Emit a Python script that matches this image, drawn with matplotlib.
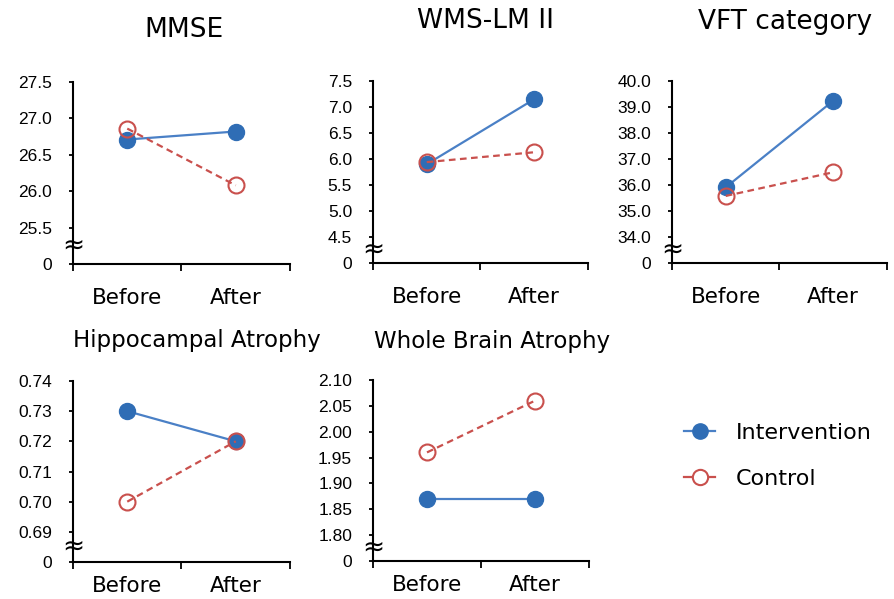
# coding:utf-8
import matplotlib
matplotlib.use("Agg")
import matplotlib.pyplot as plt
from matplotlib.lines import Line2D

# 字体设置
plt.rcParams["font.family"] = ["DejaVu Sans"]

# 数据准备
categories = ["Before", "After"]
titles = ["MMSE", "WMS-LM II", "VFT category", "Hippocampal Atrophy", "Whole Brain Atrophy"]

mmse_intervention = [26.71, 26.82]
mmse_control = [26.86, 26.08]
wms_intervention = [5.90, 7.15]
wms_control = [5.94, 6.13]
vft_intervention = [35.91, 39.24]
vft_control = [35.58, 36.49]
hippo_intervention = [0.730, 0.720]
hippo_control = [0.700, 0.720]
brain_intervention = [1.87, 1.87]
brain_control = [1.96, 2.06]

mmse_ticks = [25.5, 26.0, 26.5, 27.0, 27.5]
wms_ticks = [4.5, 5.0, 5.5, 6.0, 6.5, 7.0, 7.5]
vft_ticks = [34.0, 35.0, 36.0, 37.0, 38.0, 39.0, 40.0]
hippo_ticks = [0.69, 0.70, 0.71, 0.72, 0.73, 0.74]
brain_ticks = [1.80, 1.85, 1.90, 1.95, 2.00, 2.05, 2.10]

intervention_data = [mmse_intervention, wms_intervention, vft_intervention,
                     hippo_intervention, brain_intervention]
control_data = [mmse_control, wms_control, vft_control, hippo_control, brain_control]
tick_data = [mmse_ticks, wms_ticks, vft_ticks, hippo_ticks, brain_ticks]
tick_fmt = ["{:.1f}", "{:.1f}", "{:.1f}", "{:.2f}", "{:.2f}"]

# 坐标轴位置 (像素: 左, 上, 右, 下)
W, H = 895, 599
boxes = [(73, 82, 290, 264), (373, 81, 588, 263), (672, 81, 887, 263),
         (73, 381, 290, 562), (373, 380, 589, 561)]
# 标题位置 (中心x, 基线y)
title_pos = [(184, 37), (486, 28), (785, 29), (197, 347), (492, 348)]

blue = "#2F6DB5"
blue_line = "#4A80C6"
red = "#C9504D"

fig = plt.figure(figsize=(W / 100, H / 100), dpi=100)

for i in range(5):
    l, t, r, b = boxes[i]
    ax = fig.add_axes([l / W, 1 - b / H, (r - l) / W, (b - t) / H])
    ticks = tick_data[i]
    step = ticks[1] - ticks[0]
    base = ticks[0] - step
    xs = [0.5, 1.5]

    ax.plot(xs, intervention_data[i], color=blue_line, lw=1.6, marker="o",
            ms=11.5, mfc=blue, mec=blue, zorder=3)
    ax.plot(xs, control_data[i], color=red, lw=1.6, ls=(0, (3, 2)), marker="o",
            ms=11.5, mfc="none", mec=red, mew=1.5, zorder=4)

    ax.set_xlim(0, 2)
    ax.set_ylim(base, ticks[-1])
    ax.set_yticks([base] + ticks)
    ax.set_yticklabels(["0"] + [tick_fmt[i].format(v) for v in ticks],
                       family=["Liberation Sans", "DejaVu Sans"], fontsize=12.5)
    ax.set_xticks([0, 1, 2])
    ax.set_xticklabels([])
    ax.set_xticks(xs, minor=True)
    ax.set_xticklabels(categories, minor=True, fontsize=15.5)
    ax.tick_params(axis="x", which="minor", length=0, pad=17 if i < 3 else 10)
    ax.tick_params(axis="x", which="major", length=5, width=1.3, direction="out")
    ax.tick_params(axis="y", length=3, width=1.3, direction="out", pad=12)

    for s in ["top", "right"]:
        ax.spines[s].set_visible(False)
    for s in ["left", "bottom"]:
        ax.spines[s].set_linewidth(1.5)

    # 断轴标记
    ax.text(0, base + 0.5 * step, "≈", transform=ax.get_yaxis_transform(),
            ha="center", va="center", fontsize=19, family="DejaVu Sans",
            clip_on=False, zorder=5)

    tx, ty = title_pos[i]
    fig.text(tx / W, 1 - ty / H, titles[i], ha="center", va="baseline",
             fontsize=19 if i < 3 else 16.5)

# 图例
handles = [
    Line2D([], [], color=blue_line, lw=1.6, marker="o", ms=11, mfc=blue, mec=blue),
    Line2D([], [], color=red, lw=1.6, marker="o", ms=11, mfc="white", mec=red, mew=1.5),
]
fig.legend(handles, ["Intervention", "Control"], loc="center left",
           bbox_to_anchor=(664 / W, 1 - 456 / H), frameon=False, fontsize=16,
           handlelength=1.4, handletextpad=0.95, labelspacing=1.15)

plt.savefig("out.png", dpi=100)
